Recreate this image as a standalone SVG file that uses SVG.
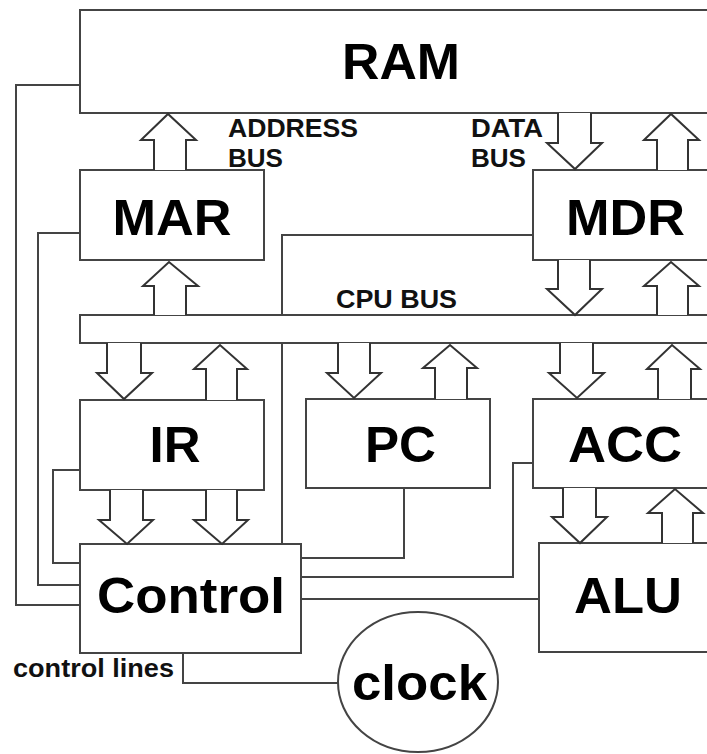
<svg xmlns="http://www.w3.org/2000/svg" width="707" height="754" viewBox="0 0 707 754">
<style>
.box{fill:#fff;stroke:#444;stroke-width:2}
.ln{fill:none;stroke:#444;stroke-width:2}
.ar{fill:#fff;stroke:#333;stroke-width:2;stroke-linejoin:miter}
.big{font-family:"Liberation Sans",Arial,sans-serif;font-weight:bold;font-size:50px;fill:#000;text-anchor:middle}
.sm{font-family:"Liberation Sans",Arial,sans-serif;font-weight:bold;font-size:25px;fill:#111}
</style>
<rect width="707" height="754" fill="#fff"/>
<g id="connectors">
<path class="ln" d="M80,605 H16 V85 H80"/>
<path class="ln" d="M80,233 H38 V585 H80"/>
<path class="ln" d="M80,470 H53 V563 H80"/>
<path class="ln" d="M282,544 V235 H533"/>
<path class="ln" d="M301,558 H404 V488"/>
<path class="ln" d="M301,577 H513 V463 H533"/>
<path class="ln" d="M301,599 H539"/>
<path class="ln" d="M183,653 V683 H338"/>
</g>
<g id="RAM"><rect class="box" x="80" y="10" width="700" height="103"/><text class="big" x="401" y="79" textLength="118" lengthAdjust="spacingAndGlyphs">RAM</text></g>
<g id="MAR"><rect class="box" x="80" y="170" width="184" height="90"/><text class="big" x="172" y="235" textLength="119" lengthAdjust="spacingAndGlyphs">MAR</text></g>
<g id="MDR"><rect class="box" x="533" y="170" width="200" height="90"/><text class="big" x="625.5" y="235" textLength="119" lengthAdjust="spacingAndGlyphs">MDR</text></g>
<g id="CPUBUS"><rect class="box" x="80" y="315" width="700" height="28"/></g>
<g id="IR"><rect class="box" x="80" y="400" width="184" height="90"/><text class="big" x="175" y="462" textLength="51" lengthAdjust="spacingAndGlyphs">IR</text></g>
<g id="PC"><rect class="box" x="306" y="399" width="184" height="89"/><text class="big" x="400.5" y="462" textLength="71" lengthAdjust="spacingAndGlyphs">PC</text></g>
<g id="ACC"><rect class="box" x="533" y="399" width="200" height="89"/><text class="big" x="625" y="462" textLength="114" lengthAdjust="spacingAndGlyphs">ACC</text></g>
<g id="Control"><rect class="box" x="80" y="544" width="221" height="109"/><text class="big" x="191" y="613" textLength="188" lengthAdjust="spacingAndGlyphs">Control</text></g>
<g id="ALU"><rect class="box" x="539" y="543" width="200" height="109"/><text class="big" x="628" y="613" textLength="108" lengthAdjust="spacingAndGlyphs">ALU</text></g>
<g id="clock"><ellipse class="box" cx="418" cy="682" rx="80" ry="70"/><text class="big" x="419.5" y="700" textLength="135" lengthAdjust="spacingAndGlyphs">clock</text></g>
<g id="arrows">
<path class="ar" d="M154,170 V140 H141 L168,114 L196,140 H186 V170"/>
<path class="ar" d="M558,113 V143 H547 L575,169 L602,143 H591 V113"/>
<path class="ar" d="M657,170 V140 H644 L671,114 L699,140 H688 V170"/>
<path class="ar" d="M154,315 V286 H143 L169,262 L198,286 H186 V315"/>
<path class="ar" d="M558,260 V289 H547 L575,315 L602,289 H590 V260"/>
<path class="ar" d="M657,315 V286 H644 L671,262 L699,286 H688 V315"/>
<path class="ar" d="M107,343 V373 H97 L124,399 L152,373 H141 V343"/>
<path class="ar" d="M206,400 V369 H194 L220,345 L247,369 H237 V400"/>
<path class="ar" d="M338,343 V373 H327 L354,398 L381,373 H370 V343"/>
<path class="ar" d="M435,399 V368 H423 L450,345 L477,368 H467 V399"/>
<path class="ar" d="M560,343 V373 H549 L577,398 L604,373 H593 V343"/>
<path class="ar" d="M658,399 V369 H647 L672,345 L700,369 H691 V399"/>
<path class="ar" d="M110,490 V520 H99 L127,544 L153,520 H143 V490"/>
<path class="ar" d="M206,490 V520 H194 L222,544 L248,520 H237 V490"/>
<path class="ar" d="M563,488 V517 H552 L580,543 L607,517 H596 V488"/>
<path class="ar" d="M662,543 V513 H648 L675,489 L703,513 H693 V543"/>
</g>
<g id="labels">
<text class="sm" x="228" y="137" textLength="130" lengthAdjust="spacingAndGlyphs">ADDRESS</text>
<text class="sm" x="228" y="167" textLength="55" lengthAdjust="spacingAndGlyphs">BUS</text>
<text class="sm" x="471" y="137" textLength="72" lengthAdjust="spacingAndGlyphs">DATA</text>
<text class="sm" x="471" y="167" textLength="55" lengthAdjust="spacingAndGlyphs">BUS</text>
<text class="sm" x="336" y="308" textLength="121" lengthAdjust="spacingAndGlyphs">CPU BUS</text>
<text class="sm" x="13" y="677" font-size="21" textLength="161" lengthAdjust="spacingAndGlyphs">control lines</text>
</g>
</svg>
